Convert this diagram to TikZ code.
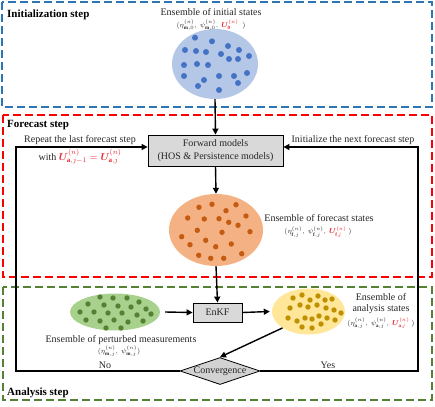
\documentclass[tikz,border=0pt]{standalone}
\usepackage{amsmath}
\usepackage{bm}
\usepackage{fontspec}
\setmainfont{Liberation Serif}
\usetikzlibrary{shapes.geometric,arrows.meta}
\definecolor{bframe}{HTML}{2E75B6}
\definecolor{rframe}{HTML}{FF0000}
\definecolor{gframe}{HTML}{548235}
\definecolor{bfill}{HTML}{B4C7E7}
\definecolor{bdot}{HTML}{4472C4}
\definecolor{ofill}{HTML}{F4B183}
\definecolor{odot}{HTML}{C55A11}
\definecolor{gfill}{HTML}{A9D18E}
\definecolor{gdot}{HTML}{548235}
\definecolor{yfill}{HTML}{FFE699}
\definecolor{ydot}{HTML}{BF9000}
\definecolor{ured}{HTML}{E8202A}
\definecolor{txt}{HTML}{262626}
\newcommand{\rU}[1]{\textcolor{ured}{\bm{U}^{(n)}_{\mathbf{#1}}}}
\tikzset{
  frame/.style={line width=1.5pt, dash pattern=on 8pt off 4pt},
  steplabel/.style={anchor=west, font=\fontsize{11}{12}\selectfont\bfseries, inner sep=0pt},
  txtlabel/.style={font=\fontsize{10}{11}\selectfont, text=txt, inner sep=0pt},
  formula/.style={font=\fontsize{7.2}{8}\selectfont, text=txt, inner sep=0pt},
  graybox/.style={draw=black, line width=0.8pt, fill=gray!30, inner sep=0pt},
  cloud/.style={ellipse, inner sep=0pt},
  flow/.style={line width=1.4pt, -{Triangle[length=6pt,width=6pt]}},
  loop/.style={line width=1.2pt, -{Triangle[length=6pt,width=6pt]}},
}
\begin{document}
\begin{tikzpicture}[x=1pt,y=-1pt]
\useasboundingbox (0,0) rectangle (435,406);
% frames
\draw[frame, bframe] (2,2) rectangle (432,107);
\draw[frame, rframe] (3,115) rectangle (432,277);
\draw[frame, gframe] (3,287) rectangle (432,400);
\node[steplabel] (lab1) at (7,15) {Initialization step};
\node[steplabel] (lab2) at (7,125) {Forecast step};
\node[steplabel] (lab3) at (7,393) {Analysis step};

% initial ensemble
\node[cloud, fill=bfill, minimum width=86pt, minimum height=70pt] (init) at (215,64) {};
\foreach \x/\y in {195/37.7,212/41.3,185/50,196/51,206/52,221/54,228/46,239/50,249/56,229/59,238/59,184/65,197/64,208/65,184/76,204/80,219/76,234/76,247/73,198/86,238/83,219/90}
  \fill[bdot] (\x,\y) circle (3pt);
\node[txtlabel] (initt) at (211,12) {Ensemble of initial states};
\node[formula] (initf) at (211,25) {$(\eta^{(n)}_{\mathbf{m},0},\ \psi^{(n)}_{\mathbf{m},0},\ \rU{0}\ \ )$};

% forward models
\node[graybox, minimum width=135pt, minimum height=31pt, align=center, txtlabel] (fwd) at (215.5,150.5) {Forward models\\[2pt](HOS \& Persistence models)};
\node[txtlabel] (rep) at (80,140) {Repeat the last forecast step};
\node[formula, font=\fontsize{10}{11}\selectfont] (with) at (80,157) {with $\textcolor{ured}{\bm{U}^{(n)}_{\mathbf{a},j-1}=\bm{U}^{(n)}_{\mathbf{a},j}}$};
\node[txtlabel] (ini) at (353,140) {Initialize the next forecast step};

% forecast ensemble
\node[cloud, fill=ofill, minimum width=94pt, minimum height=72pt] (fore) at (216,230) {};
\foreach \x/\y in {199/207.3,212/204.3,236/204.7,226/210.7,187.7/218,204.3/219,219/218.7,228.7/222.3,246/216,238/225.3,197.3/230.3,222/232.3,250/231.7,181.7/236.7,205.7/240.3,190/244.7,215.7/246.7,231.3/244,198.7/255.3,210.7/258.3,223.7/258.3,241.7/253.7}
  \fill[odot] (\x,\y) circle (2.7pt);
\node[txtlabel] (foret) at (319,218) {Ensemble of forecast states};
\node[formula] (foref) at (318,232) {$(\eta^{(n)}_{\mathbf{f},j},\ \psi^{(n)}_{\mathbf{f},j},\ \rU{f,\mathit{j}}\ )$};

% analysis
\node[graybox, minimum width=49pt, minimum height=19pt, txtlabel] (enkf) at (217.5,312.5) {EnKF};
\node[cloud, fill=gfill, minimum width=90pt, minimum height=37pt] (meas) at (115,312) {};
\foreach \x/\y in {100/297,113/298,127/298,139/302,88/304,104/305,118/306,131/307,146/309,80/312,94/312,108/313,122/313,137/315,151/314,86/320,100/321,114/320,128/322,143/321,106/328,121/328}
  \fill[gdot] (\x,\y) circle (2.7pt);
\node[txtlabel] (meast) at (121,340) {Ensemble of perturbed measurements};
\node[formula] (measf) at (119,351) {$(\eta^{(n)}_{\mathbf{m},j},\ \psi^{(n)}_{\mathbf{m},j})$};

\node[cloud, fill=yfill, minimum width=73pt, minimum height=46pt] (ana) at (308.5,311.5) {};
\foreach \x/\y in {293/298,302/295,310/300,318/296,325/300,332/299,290/308,300/305,308/307,317/305,326/308,334/310,341/313,288/318,297/321,305/318,312/319,319/316,327/318,335/320,302/327,312/328,321/324}
  \fill[ydot] (\x,\y) circle (2.7pt);
\node[txtlabel, align=center] (anat) at (381,303.5) {Ensemble of\\[0pt]analysis states};
\node[formula] (anaf) at (381,323) {$(\eta^{(n)}_{\mathbf{a},j},\ \psi^{(n)}_{\mathbf{a},j},\ \rU{a,\mathit{j}}\ )$};

\node[diamond, draw=black, line width=0.8pt, fill=gray!35, shape aspect=3, inner sep=0pt, minimum width=80pt, minimum height=27pt, txtlabel] (conv) at (220,371) {Convergence};
\node[txtlabel] (no) at (105,365) {No};
\node[txtlabel] (yes) at (328,365) {Yes};

% connectors
\coordinate (LB) at (16,371);
\coordinate (RB) at (418,371);
\draw[flow] (init.south) -- (fwd.north);
\draw[flow] (fwd.south) -- (fore.north);
\draw[flow] (fore.south) -- (enkf.north);
\draw[flow] ([xshift=5pt]meas.east) -- (enkf.west);
\draw[flow] (enkf.east) -- ([xshift=-2pt]ana.west);
\draw[flow] (ana.south west) -- (conv.north);
\draw[loop] (conv.west) -- (LB) |- ([yshift=3.5pt]fwd.west);
\draw[loop] (conv.east) -- (RB) |- ([yshift=3.5pt]fwd.east);
\end{tikzpicture}
\end{document}
